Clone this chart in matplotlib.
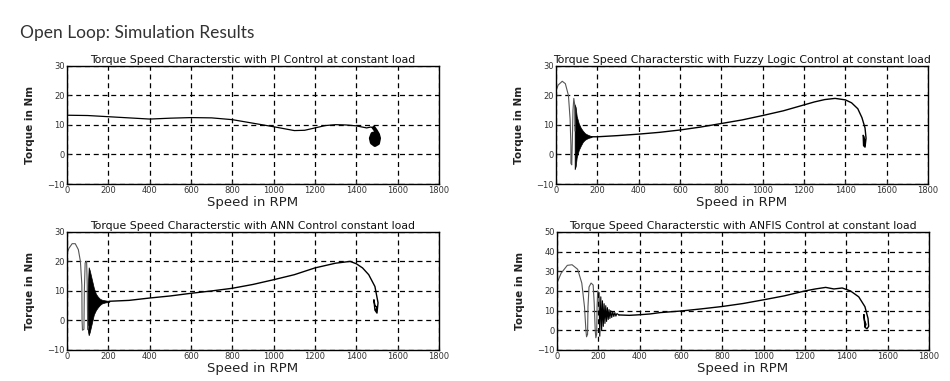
import numpy as np
import matplotlib
matplotlib.use("Agg")
import matplotlib.pyplot as plt

plt.rcParams['font.family'] = ['DejaVu Sans']

# ---- PI control ----
pi_speed = [0, 100, 200, 300, 400, 500, 600, 700, 800, 900, 1000, 1100, 1150,
            1200, 1250, 1300, 1350, 1400, 1450, 1470, 1485]
pi_torque = [13.3, 13.2, 12.8, 12.4, 12.0, 12.3, 12.5, 12.4, 11.8, 10.6, 9.4,
             8.1, 8.2, 9.0, 9.8, 10.1, 10.0, 9.7, 9.0, 9.3, 9.0]
pi_blob_speed = [1485, 1495, 1505, 1510, 1505, 1490, 1475, 1470, 1478, 1492,
                 1503, 1500, 1488, 1480, 1485, 1495, 1495, 1488, 1490]
pi_blob_torque = [9.0, 8.0, 6.8, 5.5, 3.8, 3.2, 4.0, 5.5, 7.0, 7.2,
                  6.0, 4.2, 3.8, 5.0, 6.3, 5.8, 4.6, 4.8, 5.5]

# ---- Fuzzy logic control ----
fz_loop_speed = [0, 10, 30, 45, 60, 68, 72, 72, 76, 79, 82, 86, 90, 92]
fz_loop_torque = [21.5, 23.5, 24.8, 24.0, 20.0, 12.0, 3.0, -3.0, -3.5, 5.0,
                  15.0, 19.0, 17.0, 8.0]
fz_band_speed = [90, 95, 100, 110, 120, 130, 140, 150, 160, 172]
fz_band_upper = [17.0, 16.0, 13.0, 10.5, 9.0, 8.0, 7.2, 6.8, 6.5, 6.2]
fz_band_lower = [-5.0, -4.0, -1.0, 1.5, 3.0, 4.3, 5.0, 5.4, 5.7, 5.9]
fz_speed = [172, 200, 300, 400, 500, 600, 700, 800, 900, 1000, 1100, 1200,
            1250, 1300, 1350, 1400, 1430, 1460, 1480, 1495, 1500, 1495, 1488,
            1486, 1490, 1496, 1494, 1489]
fz_torque = [6.0, 6.0, 6.4, 6.9, 7.5, 8.3, 9.3, 10.5, 11.7, 13.2, 14.8, 16.8,
             17.8, 18.6, 19.0, 18.5, 17.5, 15.5, 12.5, 9.0, 5.5, 2.5, 3.0,
             6.5, 6.0, 4.0, 3.0, 4.5]

# ---- ANN control ----
ann_loop_speed = [0, 10, 25, 40, 55, 65, 72, 73, 75, 82, 84, 88, 95, 98, 100, 104]
ann_loop_torque = [22.8, 24.5, 26.0, 26.0, 24.0, 20.0, 12.0, 0.0, -3.3, -3.0,
                   10.0, 19.5, 20.0, 12.0, -3.0, -2.0]
ann_band_speed = [100, 105, 110, 120, 130, 140, 150, 160, 170, 185, 205]
ann_band_upper = [10.0, 18.0, 17.0, 14.0, 11.0, 9.0, 8.0, 7.3, 7.0, 6.8, 6.6]
ann_band_lower = [-3.0, -5.0, -4.0, -1.0, 2.0, 3.5, 4.5, 5.3, 5.8, 6.1, 6.3]
ann_speed = [205, 300, 400, 500, 600, 700, 800, 900, 1000, 1100, 1200, 1300,
             1370, 1400, 1430, 1460, 1490, 1505, 1500, 1490, 1485, 1490, 1500,
             1495]
ann_torque = [6.5, 6.8, 7.6, 8.3, 9.2, 10.0, 10.9, 12.2, 13.8, 15.5, 17.8,
              19.4, 20.0, 19.2, 17.8, 15.5, 11.5, 6.0, 2.5, 3.5, 7.0, 5.0,
              4.5, 3.5]

# ---- ANFIS control ----
anf_loop_speed = [0, 20, 50, 73, 100, 120, 133, 140, 143, 148, 150, 155, 165,
                  175, 180, 185, 188, 192, 194, 197, 203]
anf_loop_torque = [24.0, 29.0, 33.0, 33.3, 31.0, 24.0, 12.0, 0.0, -3.3, -2.0,
                   12.0, 22.0, 24.0, 23.0, 14.0, 0.0, -3.8, -2.0, 12.0, 20.0,
                   19.0]
anf_osc_speed = [203, 207, 212, 216, 220, 224, 228, 232, 236, 240, 244, 248,
                 252, 256, 260, 265, 270, 275, 280, 285, 290, 300]
anf_osc_torque = [19.0, -3.0, 17.0, 0.0, 15.0, 2.0, 13.5, 3.5, 12.5, 4.5, 11.5,
                  5.5, 10.5, 6.0, 10.0, 6.5, 9.5, 7.0, 9.0, 7.2, 8.5, 7.8]
anf_speed = [300, 350, 400, 450, 500, 600, 700, 800, 900, 1000, 1100, 1200,
             1250, 1300, 1340, 1380, 1420, 1460, 1490, 1505, 1508, 1500, 1490,
             1485, 1488, 1495, 1492]
anf_torque = [7.8, 7.6, 7.9, 8.3, 9.0, 9.8, 10.9, 12.1, 13.6, 15.5, 17.5, 20.0,
              21.0, 21.8, 21.0, 21.5, 20.0, 17.0, 12.0, 6.0, 2.0, 0.8, 1.5,
              8.0, 5.0, 3.0, 2.0]

x_ticks = [0, 200, 400, 600, 800, 1000, 1200, 1400, 1600, 1800]

fig = plt.figure(figsize=(9.5, 3.81), dpi=100)
fig.text(0.021, 0.913, "Open Loop: Simulation Results", fontsize=12.5,
         color="#333333", va="center", ha="left", family=["Lato", "DejaVu Sans"])

w = 0.3916
h = 0.31
ax_pi = fig.add_axes([0.0705, 0.517, w, h])
ax_fz = fig.add_axes([0.5853, 0.517, w, h])
ax_ann = fig.add_axes([0.0705, 0.0814, w, h])
ax_anf = fig.add_axes([0.5863, 0.0814, w, h])


def style(ax, title, ylim, yticks):
    ax.set_xlim(0, 1800)
    ax.set_ylim(*ylim)
    ax.set_xticks(x_ticks)
    ax.set_yticks(yticks)
    ax.tick_params(direction="in", length=2.5, labelsize=6, colors="#333333",
                   pad=1.5)
    ax.grid(True, color="black", linestyle=(0, (4, 3)), linewidth=0.9)
    for s in ax.spines.values():
        s.set_linewidth(1.0)
    ax.set_title(title, fontsize=7.8, pad=2, color="#111111")
    ax.set_xlabel("Speed in RPM", fontsize=9.5, labelpad=1, color="#222222")
    ax.set_ylabel("Torque in Nm", fontsize=7.5, fontweight="bold", labelpad=9,
                  color="#222222")


style(ax_pi, "Torque Speed Characterstic with PI Control at constant load",
      (-10, 30), [-10, 0, 10, 20, 30])
ax_pi.plot(pi_speed, pi_torque, color="black", lw=0.9)
ax_pi.plot(pi_blob_speed, pi_blob_torque, color="black", lw=2.8)

style(ax_fz, "Torque Speed Characterstic with Fuzzy Logic Control at constant load",
      (-10, 30), [-10, 0, 10, 20, 30])
ax_fz.plot(fz_loop_speed, fz_loop_torque, color="#555555", lw=0.8)
ax_fz.fill_between(fz_band_speed, fz_band_lower, fz_band_upper, color="black", lw=0.5)
ax_fz.plot(fz_speed, fz_torque, color="black", lw=1.0)

style(ax_ann, "Torque Speed Characterstic with ANN Control constant load",
      (-10, 30), [-10, 0, 10, 20, 30])
ax_ann.plot(ann_loop_speed, ann_loop_torque, color="#555555", lw=0.8)
ax_ann.fill_between(ann_band_speed, ann_band_lower, ann_band_upper, color="black", lw=0.5)
ax_ann.plot(ann_speed, ann_torque, color="black", lw=1.0)

style(ax_anf, "Torque Speed Characterstic with ANFIS Control at constant load",
      (-10, 50), [-10, 0, 10, 20, 30, 40, 50])
ax_anf.plot(anf_loop_speed, anf_loop_torque, color="#555555", lw=0.8)
ax_anf.plot(anf_osc_speed, anf_osc_torque, color="black", lw=0.8)
ax_anf.plot(anf_speed, anf_torque, color="black", lw=1.0)

fig.savefig("out.png", dpi=100)
